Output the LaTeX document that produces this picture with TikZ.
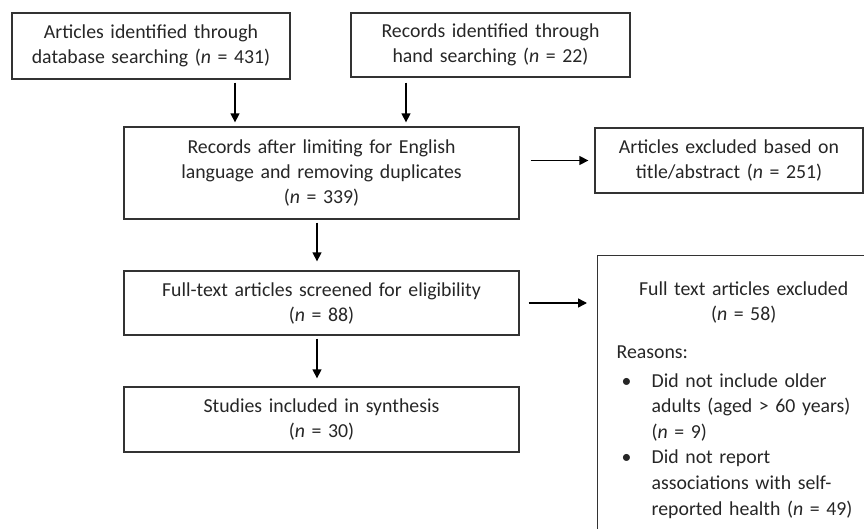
\documentclass[tikz,border=0pt]{standalone}
\usepackage{fontspec}
\setmainfont{Carlito}
\usetikzlibrary{arrows.meta}

\begin{document}
\begin{tikzpicture}[x=1pt, y=-1pt, node distance=130pt,
    font=\fontsize{19.8}{25}\selectfont, text=black!85,
    box/.style 2 args={draw=black!80, line width=1.3pt, align=center, inner sep=0pt, text width=#1, minimum height=#2},
    arr/.style={arrows=-{Triangle[length=9pt, width=9pt]}, line width=1.4pt}]
\useasboundingbox (0,0) rectangle (864,529);
\clip (0,0) rectangle (864,529);

\node  (1)[box={278pt}{66pt}] at (151,46) {Articles identified through\\database searching (\textit{n} = 431)};
\node  (2)[box={279pt}{64pt}] at (490.5,45) {Records identified through\\hand searching (\textit{n} = 22)};
\node  (3)[box={395pt}{92pt}] at (321.5,173) {Records after limiting for English\\language and removing duplicates\\(\textit{n} = 339)};
\node  (4)[box={395pt}{64pt}] [below of = 3] {Full-text articles screened for eligibility\\(\textit{n} = 88)};
\node  (5)[box={395pt}{65pt}] [below of = 4, node distance=116.5pt] {Studies included in synthesis\\(\textit{n} = 30)};
\node  (6)[box={268pt}{65pt}] at (729,160.5) {Articles excluded based on\\title/abstract (\textit{n} = 251)};
\node  (7)[draw=black!80, line width=1.3pt, anchor=north west, text width=254pt, inner xsep=19pt, inner ysep=26pt, align=left,
           font=\fontsize{19.8}{25.6}\selectfont] at (597,255) {\parindent=0pt
{\centering Full text articles excluded\\(\textit{n} = 58)\par}
\vspace{12pt}
Reasons:\par
\vspace{3pt}
\hangindent=35pt\hangafter=1\makebox[35pt][l]{\hspace{5pt}\textbullet}Did not include older\newline adults (aged > 60 years)\newline (\textit{n} = 9)\par
\hangindent=35pt\hangafter=1\makebox[35pt][l]{\hspace{5pt}\textbullet}Did not report\newline associations with self-\newline reported health (\textit{n} = 49)\par
\vspace{40pt}};

\draw[arr, shorten <=3pt, shorten >=4pt] ([xshift=84pt]1.south) -- ([xshift=84pt]1.south |- 3.north);
\draw[arr, shorten <=5pt, shorten >=4pt] ([xshift=-84.5pt]2.south) -- ([xshift=-84.5pt]2.south |- 3.north);
\draw[arr, shorten <=3pt, shorten >=9pt] ([xshift=-4.5pt]3.south) -- ([xshift=-4.5pt]4.north);
\draw[arr, shorten <=3pt, shorten >=8pt] ([xshift=-4.5pt]4.south) -- ([xshift=-4.5pt]5.north);
\draw[arr, shorten <=11pt, shorten >=6pt] (3.east |- 6.west) -- (6.west);
\draw[arr, shorten <=9pt, shorten >=10pt] (4.east) -- (4.east -| 7.west);

\end{tikzpicture}
\end{document}
